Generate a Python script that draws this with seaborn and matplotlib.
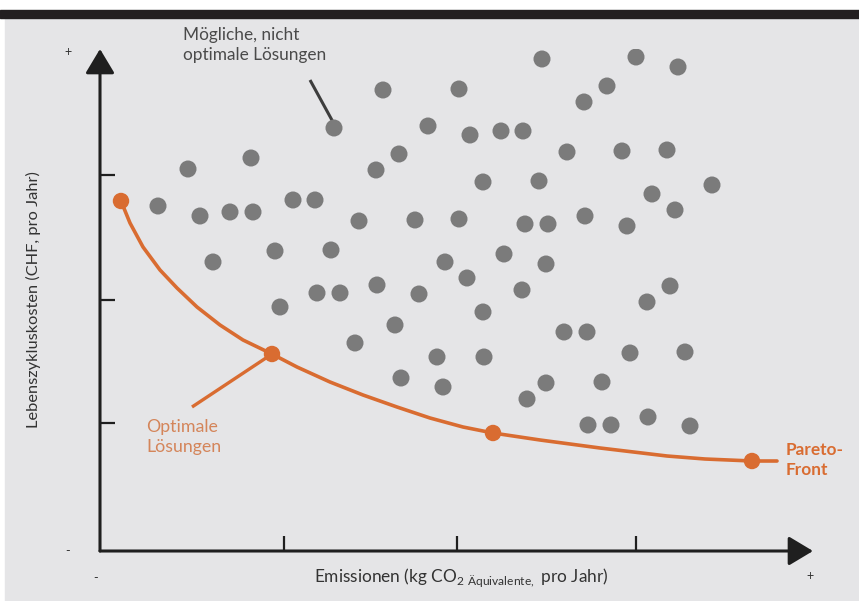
import pandas as pd
import numpy as np
import matplotlib.pyplot as plt
import seaborn as sns
from matplotlib.patches import Rectangle

sns.set_style("white")
plt.rcParams['font.family'] = ['Lato', 'DejaVu Sans']
plt.rcParams['mathtext.fontset'] = 'custom'
plt.rcParams['mathtext.rm'] = 'Lato'

# Mögliche, nicht optimale Lösungen (Emissionen, Kosten)
punkte_x = [44.2, 53.6, 57.8, 28.3, 35.9, 50.7, 48.4, 23.4, 32.8, 37.0,
            40.1, 42.3, 8.8, 15.1, 29.9, 27.6, 46.7, 52.2, 56.7, 38.3,
            43.9, 55.2, 61.2, 5.8, 10.0, 13.0, 15.3, 19.3, 21.5, 25.9,
            31.5, 35.9, 42.5, 44.8, 48.5, 52.7, 57.5, 11.3, 17.5, 23.1,
            34.5, 40.4, 44.6, 36.7, 18.0, 21.7, 24.0, 27.7, 31.9, 42.2,
            57.0, 54.7, 38.3, 29.5, 25.5, 46.4, 48.7, 33.7, 38.4, 53.0,
            58.5, 30.1, 34.3, 44.6, 50.2, 42.7, 48.8, 51.1, 54.8, 59.0]
punkte_y = [49.2, 49.4, 48.4, 46.1, 46.2, 46.5, 44.9, 42.3, 42.5, 41.6,
            42.0, 42.0, 38.2, 39.3, 39.7, 38.1, 39.9, 40.0, 40.1, 36.9,
            37.0, 35.7, 36.6, 34.5, 33.5, 33.9, 33.9, 35.1, 35.1, 33.0,
            33.1, 33.2, 32.7, 32.7, 33.5, 32.5, 34.1, 28.9, 30.0, 30.1,
            28.9, 29.7, 28.7, 27.3, 24.4, 25.8, 25.8, 26.6, 25.7, 26.1,
            26.5, 24.9, 23.9, 22.6, 20.8, 21.9, 21.9, 19.4, 19.4, 19.8,
            19.9, 17.3, 16.4, 16.8, 16.9, 15.2, 12.6, 12.6, 13.4, 12.5]

# Pareto-Front
front_x = [2.1, 3.0, 4.3, 6.0, 7.7, 9.7, 12.0, 14.3, 17.2, 19.7, 23.0,
           26.3, 29.7, 33.0, 36.3, 39.3, 44.0, 50.0, 56.7, 60.5, 65.2, 67.7]
front_y = [35.0, 32.8, 30.4, 28.1, 26.3, 24.4, 22.6, 21.1, 19.7, 18.4, 16.9,
           15.6, 14.4, 13.3, 12.4, 11.8, 11.1, 10.3, 9.5, 9.2, 9.0, 9.0]

# Optimale Lösungen
optimal_x = [2.1, 17.2, 39.3, 65.2]
optimal_y = [35.0, 19.7, 11.8, 9.0]

x_ticks = [18.4, 35.7, 53.6]
y_ticks = [12.8, 25.1, 37.6]

df = pd.DataFrame({"x": punkte_x, "y": punkte_y})
front = pd.DataFrame({"x": front_x, "y": front_y})
opt = pd.DataFrame({"x": optimal_x, "y": optimal_y})

grau = "#7b7b7b"
orange = "#d96c31"

fig = plt.figure(figsize=(8.59, 6.01), dpi=100, facecolor="white")
# Hintergrund und Balken oben
fig.add_artist(Rectangle((5 / 859, 0), 1, 583 / 601, transform=fig.transFigure,
                         color="#e5e5e7", zorder=-10))
fig.add_artist(Rectangle((0, 583 / 601), 1, 8 / 601, transform=fig.transFigure,
                         color="#231f20", zorder=-10))

ax = fig.add_axes([100 / 859, 50 / 601, 713 / 859, 502 / 601])
ax.patch.set_alpha(0)

sns.scatterplot(data=df, x="x", y="y", ax=ax, color=grau, s=150,
                edgecolor="none", legend=False, zorder=3)
sns.lineplot(data=front, x="x", y="y", ax=ax, color=orange, lw=2.6,
             sort=False, estimator=None, zorder=4, solid_joinstyle="round")
sns.scatterplot(data=opt, x="x", y="y", ax=ax, color=orange, s=140,
                edgecolor="none", legend=False, zorder=5)

ax.set_xlim(0, 71.3)
ax.set_ylim(0, 50.2)
for s in ax.spines.values():
    s.set_visible(False)
ax.set_xticks(x_ticks)
ax.set_yticks(y_ticks)
ax.set_xticklabels([])
ax.set_yticklabels([])
ax.tick_params(axis="both", direction="in", length=11, width=1.6,
               color="#1f1f1f", bottom=True, left=True)
ax.set_xlabel("")
ax.set_ylabel("")

# Achsen mit Pfeilen
pfeil = dict(arrowstyle="-|>,head_length=0.75,head_width=0.45",
             mutation_scale=20, lw=2.2, color="#1f1f1f",
             shrinkA=0, shrinkB=0)
ax.annotate("", xy=(71.3, 0), xytext=(0, 0), arrowprops=pfeil,
            annotation_clip=False, zorder=6)
ax.annotate("", xy=(0, 50.2), xytext=(0, 0), arrowprops=pfeil,
            annotation_clip=False, zorder=6)

# Vorzeichen
ax.text(-3.2, 49.9, "+", ha="center", va="center", fontsize=9, color="#333333")
ax.text(-3.2, 0.0, "-", ha="center", va="center", fontsize=9, color="#333333")
ax.text(-0.4, -2.7, "-", ha="center", va="center", fontsize=9, color="#333333")
ax.text(71.0, -2.5, "+", ha="center", va="center", fontsize=9, color="#333333")

# Achsenbeschriftungen
ax.text(-6.7, 25.1, "Lebenszykluskosten (CHF, pro Jahr)", rotation=90,
        ha="center", va="center", fontsize=11.8, color="#333333")
ax.text(36.1, -2.7,
        r"Emissionen (kg CO$_{\mathrm{2\ Äquivalente,}}$ pro Jahr)",
        ha="center", va="center", fontsize=12.4, color="#333333")

# Anmerkungen
ax.text(8.3, 50.6, "Mögliche, nicht\noptimale Lösungen", ha="left",
        va="center", fontsize=12.4, color="#4a4a4a", linespacing=1.25)
ax.plot([21.0, 23.3], [47.1, 42.9], color="#3d3d3d", lw=2.2, zorder=2,
        solid_capstyle="butt")

ax.text(4.6, 11.4, "Optimale\nLösungen", ha="left", va="center",
        fontsize=12.8, color="#d4855a", linespacing=1.25)
ax.plot([9.2, 17.2], [14.4, 19.7], color=orange, lw=2.4, zorder=4,
        solid_capstyle="butt")

ax.text(68.6, 9.1, "Pareto-\nFront", ha="left", va="center", fontsize=12.4,
        fontweight="bold", color=orange, linespacing=1.25)

fig.savefig("out.png", dpi=100)
